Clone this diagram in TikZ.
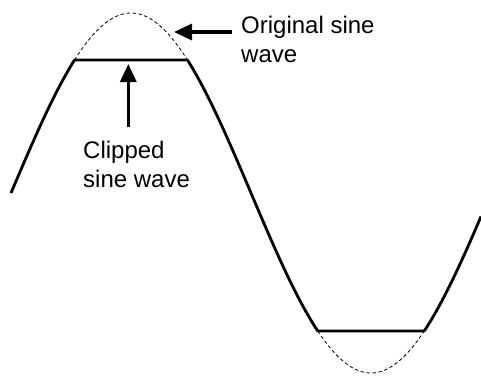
\documentclass[tikz,border=0pt]{standalone}
\usepackage{fontspec}
\setmainfont{Liberation Sans}
\usetikzlibrary{arrows.meta}
\begin{document}
\begin{tikzpicture}[x=1pt,y=-1pt,
  wave/.style={line width=2.8pt,line join=round},
  orig/.style={line width=0.8pt,dash pattern=on 3.5pt off 2.5pt},
  callout/.style={line width=3.3pt,-{Triangle[length=18pt,width=16pt]}},
  lbl/.style={font=\fontsize{24}{29.5}\selectfont,align=left,inner sep=0pt,anchor=north west}]
\useasboundingbox (0,0) rectangle (481,376);
\def\sy(#1){193-180*sin(((#1)-11)*0.75)}
% clipped wave
\draw[wave] plot[domain=11:74.5,samples=40,smooth] (\x,{\sy(\x)})
  -- (187.5,60)
  -- plot[domain=187.5:317.7,samples=80,smooth] (\x,{\sy(\x)})
  -- (424.3,331)
  -- plot[domain=424.3:481,samples=40,smooth] (\x,{\sy(\x)});
% original (dashed) parts
\draw[orig] plot[domain=74.5:187.5,samples=60,smooth] (\x,{\sy(\x)});
\draw[orig] plot[domain=317.7:424.3,samples=60,smooth] (\x,{\sy(\x)});
% labels
\node[lbl] (orig) at (241,15.5) {Original sine\\wave};
\node[lbl] (clip) at (83,140.5) {Clipped\\sine wave};
% arrows
\coordinate (o1) at (232,32);
\coordinate (o2) at (174,32);
\coordinate (c1) at (128.3,127);
\coordinate (c2) at (128.3,64);
\draw[callout] (o1) -- (o2);
\draw[callout] (c1) -- (c2);
\end{tikzpicture}
\end{document}
